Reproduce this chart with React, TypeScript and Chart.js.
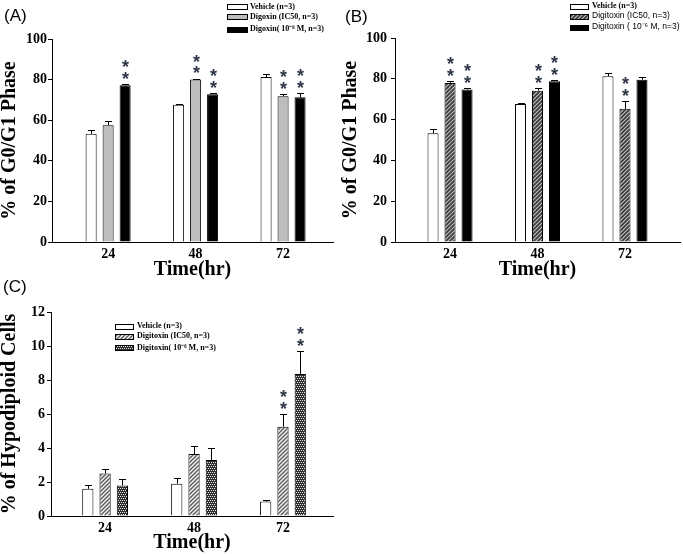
import React, { useEffect, useRef } from 'react';
import { Chart, registerables } from 'chart.js';

Chart.register(...registerables);

const SERIF = "'Liberation Serif', 'Times New Roman', serif";
const SANS = "'Liberation Sans', Arial, sans-serif";

// ---------- data ----------
const TIMES = [24, 48, 72];
const PCT_TICKS = [0, 20, 40, 60, 80, 100];
const HYPO_TICKS = [0, 2, 4, 6, 8, 10, 12];

// Panel A (Digoxin, % G0/G1)
const A_VEHICLE = [53.3, 67.6, 81.3];
const A_VEHICLE_ERR = [2.0, 0.5, 1.4];
const A_IC50 = [57.5, 80.0, 71.8];
const A_IC50_ERR = [2.2, 0.4, 1.0];
const A_HIGH = [77.2, 72.8, 71.3];
const A_HIGH_ERR = [0.4, 0.5, 2.0];
const A_VEHICLE_SIG = [false, false, false];
const A_IC50_SIG = [false, true, true];
const A_HIGH_SIG = [true, true, true];
const A_LEGEND = ['Vehicle (n=3)', 'Digoxin (IC50, n=3)', 'Digoxin( 10\u207B\u2076 M, n=3)'];

// Panel B (Digitoxin, % G0/G1)
const B_VEHICLE = [53.3, 67.6, 81.3];
const B_VEHICLE_ERR = [2.0, 0.5, 1.4];
const B_IC50 = [78.0, 74.2, 65.3];
const B_IC50_ERR = [0.8, 1.2, 3.7];
const B_HIGH = [74.8, 78.8, 79.5];
const B_HIGH_ERR = [0.5, 0.5, 1.6];
const B_VEHICLE_SIG = [false, false, false];
const B_IC50_SIG = [true, true, true];
const B_HIGH_SIG = [true, true, false];
const B_LEGEND = ['Vehicle (n=3)', 'Digitoxin (IC50, n=3)', 'Digitoxin ( 10\u207B\u2076 M, n=3)'];

// Panel C (Digitoxin, % hypodiploid)
const C_VEHICLE = [1.6, 1.9, 0.85];
const C_VEHICLE_ERR = [0.25, 0.35, 0.1];
const C_IC50 = [2.5, 3.65, 5.25];
const C_IC50_ERR = [0.25, 0.45, 0.75];
const C_HIGH = [1.8, 3.3, 8.35];
const C_HIGH_ERR = [0.35, 0.72, 1.35];
const C_VEHICLE_SIG = [false, false, false];
const C_IC50_SIG = [false, false, true];
const C_HIGH_SIG = [false, false, true];
const C_LEGEND = ['Vehicle (n=3)', 'Digitoxin (IC50, n=3)', 'Digitoxin( 10\u207B\u2076 M, n=3)'];

// ---------- styling helpers ----------
type FillKind = 'white' | 'gray' | 'black' | 'hatchDark' | 'hatchLight' | 'checker';

function makeFill(kind: FillKind): any {
  if (kind === 'white') return '#ffffff';
  if (kind === 'gray') return '#bdbdbd';
  if (kind === 'black') return '#000000';
  const c = document.createElement('canvas');
  const g = c.getContext('2d')!;
  if (kind === 'checker') {
    c.width = 4; c.height = 4;
    g.fillStyle = '#2e2e2e';
    g.fillRect(0, 0, 4, 4);
    g.fillStyle = '#e6e6e6';
    g.fillRect(0, 0, 1, 1);
    g.fillRect(2, 0, 1, 1);
    g.fillRect(1, 2, 1, 1);
    g.fillRect(3, 2, 1, 1);
    return g.createPattern(c, 'repeat');
  }
  const s = 4;
  c.width = s; c.height = s;
  const dark = kind === 'hatchDark';
  g.fillStyle = dark ? '#3a3a3a' : '#f4f4f4';
  g.fillRect(0, 0, s, s);
  g.strokeStyle = dark ? '#c4c4c4' : '#5a5a5a';
  g.lineWidth = dark ? 1.1 : 1.4;
  g.beginPath();
  g.moveTo(-1, s + 1); g.lineTo(s + 1, -1);
  g.moveTo(-1, 1); g.lineTo(1, -1);
  g.moveTo(s - 1, s + 1); g.lineTo(s + 1, s - 1);
  g.stroke();
  return g.createPattern(c, 'repeat');
}

interface Series {
  name: string;
  values: number[];
  errors: number[];
  sig: boolean[];
  fill: FillKind;
  legendFont: string;
}

interface PanelSpec {
  key: string;
  label: string;
  left: number; top: number; width: number; height: number;
  area: { left: number; top: number; right: number; bottom: number };
  xMin: number; xMax: number;
  yTicks: number[];
  yTitle: string;
  yTickPad: number;
  xTitlePad: number;
  labelPos: { x: number; y: number };
  legend: { boxX: number; boxW: number; boxH: number; textX: number; rows: number[] };
  series: Series[];
}

const LEG_SERIF = `bold 8px ${SERIF}`;
const LEG_SANS = `8.5px ${SANS}`;

const PANELS: PanelSpec[] = [
  {
    key: 'A', label: '(A)',
    left: 0, top: 0, width: 341, height: 280,
    area: { left: 52, top: 39, right: 333, bottom: 242 },
    xMin: 8.6, xMax: 85.7,
    yTicks: PCT_TICKS, yTitle: '% of G0/G1 Phase', yTickPad: 1, xTitlePad: 0,
    labelPos: { x: 4, y: 16 },
    legend: { boxX: 227, boxW: 20, boxH: 5, textX: 250, rows: [6.5, 16.5, 29] },
    series: [
      { name: A_LEGEND[0], values: A_VEHICLE, errors: A_VEHICLE_ERR, sig: A_VEHICLE_SIG, fill: 'white', legendFont: LEG_SERIF },
      { name: A_LEGEND[1], values: A_IC50, errors: A_IC50_ERR, sig: A_IC50_SIG, fill: 'gray', legendFont: LEG_SERIF },
      { name: A_LEGEND[2], values: A_HIGH, errors: A_HIGH_ERR, sig: A_HIGH_SIG, fill: 'black', legendFont: LEG_SERIF },
    ],
  },
  {
    key: 'B', label: '(B)',
    left: 341, top: 0, width: 342, height: 280,
    area: { left: 54, top: 38, right: 339, bottom: 242 },
    xMin: 8.9, xMax: 87.1,
    yTicks: PCT_TICKS, yTitle: '% of G0/G1 Phase', yTickPad: 4, xTitlePad: 0,
    labelPos: { x: 4, y: 17 },
    legend: { boxX: 229, boxW: 18, boxH: 5, textX: 251, rows: [6, 16, 27] },
    series: [
      { name: B_LEGEND[0], values: B_VEHICLE, errors: B_VEHICLE_ERR, sig: B_VEHICLE_SIG, fill: 'white', legendFont: LEG_SERIF },
      { name: B_LEGEND[1], values: B_IC50, errors: B_IC50_ERR, sig: B_IC50_SIG, fill: 'hatchDark', legendFont: LEG_SANS },
      { name: B_LEGEND[2], values: B_HIGH, errors: B_HIGH_ERR, sig: B_HIGH_SIG, fill: 'black', legendFont: LEG_SANS },
    ],
  },
  {
    key: 'C', label: '(C)',
    left: 0, top: 280, width: 341, height: 274,
    area: { left: 51, top: 32, right: 333, bottom: 236 },
    xMin: 9.4, xMax: 85.5,
    yTicks: HYPO_TICKS, yTitle: '% of Hypodiploid Cells', yTickPad: 2, xTitlePad: 1,
    labelPos: { x: 3, y: 7 },
    legend: { boxX: 115, boxW: 18, boxH: 5, textX: 137, rows: [46, 56, 67.5] },
    series: [
      { name: C_LEGEND[0], values: C_VEHICLE, errors: C_VEHICLE_ERR, sig: C_VEHICLE_SIG, fill: 'white', legendFont: LEG_SERIF },
      { name: C_LEGEND[1], values: C_IC50, errors: C_IC50_ERR, sig: C_IC50_SIG, fill: 'hatchLight', legendFont: LEG_SERIF },
      { name: C_LEGEND[2], values: C_HIGH, errors: C_HIGH_ERR, sig: C_HIGH_SIG, fill: 'checker', legendFont: LEG_SERIF },
    ],
  },
];

function drawStar(ctx: CanvasRenderingContext2D, x: number, cy: number) {
  ctx.font = `bold 18px ${SANS}`;
  ctx.fillStyle = '#2f3646';
  ctx.textAlign = 'center';
  ctx.textBaseline = 'alphabetic';
  const m = ctx.measureText('*');
  const asc = m.actualBoundingBoxAscent || 12;
  const desc = m.actualBoundingBoxDescent || -5;
  ctx.fillText('*', x, cy + (asc - desc) / 2);
}

function makeDecorPlugin(spec: PanelSpec, fills: any[]) {
  return {
    id: 'decor' + spec.key,
    afterDatasetsDraw(chart: any) {
      const ctx: CanvasRenderingContext2D = chart.ctx;
      const yScale = chart.scales.y;
      ctx.save();
      spec.series.forEach((s, di) => {
        const meta = chart.getDatasetMeta(di);
        meta.data.forEach((bar: any, i: number) => {
          const topPx = yScale.getPixelForValue(s.values[i] + s.errors[i]);
          const x = Math.round(bar.x) + 0.5;
          const ty = Math.round(topPx) + 0.5;
          ctx.strokeStyle = '#000';
          ctx.lineWidth = 1;
          ctx.beginPath();
          ctx.moveTo(x, bar.y);
          ctx.lineTo(x, ty);
          ctx.moveTo(x - 3.5, ty);
          ctx.lineTo(x + 3.5, ty);
          ctx.stroke();
          if (s.sig[i]) {
            drawStar(ctx, x, topPx - 9);
            drawStar(ctx, x, topPx - 20.5);
          }
        });
      });
      ctx.restore();
    },
    afterDraw(chart: any) {
      const ctx: CanvasRenderingContext2D = chart.ctx;
      ctx.save();
      const L = spec.legend;
      spec.series.forEach((s, di) => {
        const cy = L.rows[di];
        const y0 = Math.round(cy - L.boxH / 2) + 0.5;
        ctx.fillStyle = fills[di];
        ctx.fillRect(L.boxX + 0.5, y0, L.boxW, L.boxH);
        ctx.strokeStyle = '#000';
        ctx.lineWidth = 1;
        ctx.strokeRect(L.boxX + 0.5, y0, L.boxW, L.boxH);
        ctx.fillStyle = '#000';
        ctx.font = s.legendFont;
        ctx.textAlign = 'left';
        ctx.textBaseline = 'middle';
        ctx.fillText(s.name, L.textX, cy);
      });
      ctx.fillStyle = '#000';
      ctx.font = `17px ${SANS}`;
      ctx.textAlign = 'left';
      ctx.textBaseline = 'middle';
      ctx.fillText(spec.label, spec.labelPos.x, spec.labelPos.y);
      ctx.restore();
    },
  };
}

function buildConfig(spec: PanelSpec, fills: any[]): any {
  const tickFont = { family: SERIF, weight: 'bold', size: 14 };
  const titleFont = { family: SERIF, weight: 'bold', size: 20, lineHeight: 1 };
  return {
    type: 'bar',
    data: {
      datasets: spec.series.map((s, di) => ({
        label: s.name,
        data: TIMES.map((t, i) => ({ x: t, y: s.values[i] })),
        backgroundColor: fills[di],
        borderColor: '#000',
        borderWidth: 1,
        categoryPercentage: 0.583,
        barPercentage: 0.65,
      })),
    },
    options: {
      responsive: false,
      maintainAspectRatio: false,
      animation: false,
      devicePixelRatio: 1,
      layout: {
        padding: { left: 0, top: spec.area.top, right: spec.width - spec.area.right, bottom: 0 },
      },
      plugins: { legend: { display: false }, tooltip: { enabled: false }, title: { display: false } },
      scales: {
        x: {
          type: 'linear',
          min: spec.xMin,
          max: spec.xMax,
          offset: false,
          afterBuildTicks: (sc: any) => { sc.ticks = TIMES.map((v) => ({ value: v })); },
          afterFit: (sc: any) => { sc.height = spec.height - spec.area.bottom; },
          grid: { display: false, drawTicks: false },
          border: { display: true, color: '#000', width: 1 },
          ticks: {
            color: '#000', font: tickFont, padding: 4, maxRotation: 0, autoSkip: false,
            callback: (v: any) => String(v),
          },
          title: {
            display: true, text: 'Time(hr)', color: '#000', font: titleFont,
            padding: { top: 0, bottom: spec.xTitlePad },
          },
        },
        y: {
          type: 'linear',
          min: spec.yTicks[0],
          max: spec.yTicks[spec.yTicks.length - 1],
          afterBuildTicks: (sc: any) => { sc.ticks = spec.yTicks.map((v) => ({ value: v })); },
          afterFit: (sc: any) => { sc.width = spec.area.left; },
          grid: { display: true, drawOnChartArea: false, drawTicks: true, tickLength: 4, color: '#000' },
          border: { display: true, color: '#000', width: 1 },
          ticks: { color: '#000', font: tickFont, padding: spec.yTickPad },
          title: {
            display: true, text: spec.yTitle, color: '#000', font: titleFont,
            padding: { top: 0, bottom: 0 },
          },
        },
      },
    },
    plugins: [makeDecorPlugin(spec, fills)],
  };
}

function Panel({ spec }: { spec: PanelSpec }) {
  const ref = useRef<HTMLCanvasElement>(null);
  useEffect(() => {
    const canvas = ref.current;
    if (!canvas) return;
    const fills = spec.series.map((s) => makeFill(s.fill));
    const chart = new Chart(canvas, buildConfig(spec, fills));
    return () => chart.destroy();
  }, [spec]);
  return (
    <canvas
      ref={ref}
      width={spec.width}
      height={spec.height}
      style={{ position: 'absolute', left: spec.left, top: spec.top, width: spec.width, height: spec.height }}
    />
  );
}

export default function App() {
  return (
    <div style={{ position: 'absolute', left: 0, top: 0, width: 683, height: 554, background: '#fff', overflow: 'hidden' }}>
      {PANELS.map((p) => (
        <Panel key={p.key} spec={p} />
      ))}
    </div>
  );
}
